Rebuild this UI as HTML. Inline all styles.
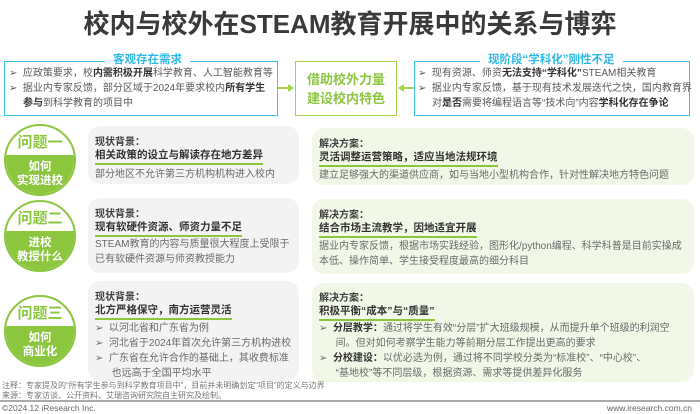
<!DOCTYPE html>
<html><head><meta charset="utf-8"><style>
*{margin:0;padding:0;box-sizing:border-box}
body{width:700px;height:414px;background:#fff;position:relative;overflow:hidden;font-family:"Liberation Sans","Noto Sans CJK SC",sans-serif;color:#595959}
.a{position:absolute;white-space:nowrap}
.title{left:0;width:700px;top:4px;text-align:center;font-size:26px;font-weight:bold;color:#3a3a3a}
.box{position:absolute;border:1.5px solid #3cc3ea}
.lbl{position:absolute;background:#fff;color:#2fb9e6;font-weight:bold;font-size:11.5px;padding:0 8px}
.li{font-size:10px;line-height:15px;color:#595959}
.li b{color:#333}
.circ{position:absolute;width:72px;height:72px;border-radius:50%;border:2px solid #8cc63f;overflow:hidden;background:#fff}
.circ .t{position:absolute;top:5px;width:100%;text-align:center;color:#8cc63f;font-weight:bold;font-size:15px}
.circ .b{position:absolute;top:29px;width:100%;height:44px;background:#8cc63f;color:#fff;font-weight:bold;font-size:11.5px;line-height:14px;text-align:center;padding-top:5px}
.card{position:absolute;border-radius:12px}
.g{background:#f3f3f3}
.gr{background:#f2f8e8}
.h{font-size:10px;font-weight:bold;color:#404040}
.s{font-size:10.5px;font-weight:bold;color:#333;display:inline-block;padding-bottom:1px;border-bottom:2px solid #8cc63f}
.p{font-size:10px;color:#6a6a6a;line-height:15px}
.p b{color:#333}
</style></head><body>
<div class="a title">校内与校外在STEAM教育开展中的关系与博弈</div>

<div class="box" style="left:4px;top:61px;width:274px;height:55px"></div>
<div class="lbl" style="left:105px;top:51px">客观存在需求</div>
<div class="a li" style="left:9px;top:66px">➢&nbsp; 应政策要求，校<b>内需积极开展</b>科学教育、人工智能教育等</div>
<div class="a li" style="left:9px;top:81px">➢&nbsp; 据业内专家反馈，部分区域于2024年要求校内<b>所有学生</b></div>
<div class="a li" style="left:23px;top:96px"><b>参与</b>到科学教育的项目中</div>

<div style="position:absolute;left:278px;top:87px;width:14px;height:1.5px;background:#a8d14a"></div>
<div style="position:absolute;left:288px;top:84px;border-left:6px solid #a8d14a;border-top:4px solid transparent;border-bottom:4px solid transparent"></div>
<div class="box" style="left:295px;top:61px;width:102px;height:55px;border-color:#a8d14a"></div>
<div class="a" style="left:295px;top:70px;width:102px;text-align:center;color:#8cc63f;font-weight:bold;font-size:13px;line-height:19px">借助校外力量<br>建设校内特色</div>
<div style="position:absolute;left:402px;top:87px;width:12px;height:1.5px;background:#a8d14a"></div>
<div style="position:absolute;left:398px;top:84px;border-right:6px solid #a8d14a;border-top:4px solid transparent;border-bottom:4px solid transparent"></div>

<div class="box" style="left:414px;top:61px;width:276px;height:55px"></div>
<div class="lbl" style="left:480px;top:51px">现阶段“学科化”刚性不足</div>
<div class="a li" style="left:418px;top:66px">➢&nbsp; 现有资源、师资<b>无法支持“学科化”</b>STEAM相关教育</div>
<div class="a li" style="left:418px;top:81px">➢&nbsp; 据业内专家反馈，基于现有技术发展迭代之快，国内教育界</div>
<div class="a li" style="left:432px;top:96px">对<b>是否</b>需要将编程语言等“技术向”内容<b>学科化存在争论</b></div>

<div class="circ" style="left:4px;top:124px"><div class="t">问题一</div><div class="b">如何<br>实现进校</div></div>
<div class="circ" style="left:4px;top:200px"><div class="t">问题二</div><div class="b">进校<br>教授什么</div></div>
<div class="circ" style="left:4px;top:295px"><div class="t">问题三</div><div class="b">如何<br>商业化</div></div>

<div class="card g" style="left:88px;top:126px;width:211px;height:58px"></div>
<div class="a h" style="left:95px;top:133px">现状背景：</div>
<div class="a s" style="left:95px;top:147px">相关政策的设立与解读存在地方差异</div>
<div class="a p" style="left:95px;top:167px">部分地区不允许第三方机构机构进入校内</div>

<div class="card gr" style="left:312px;top:128px;width:382px;height:57px"></div>
<div class="a h" style="left:319px;top:135px">解决方案：</div>
<div class="a s" style="left:319px;top:149px">灵活调整运营策略，适应当地法规环境</div>
<div class="a p" style="left:319px;top:168px">建立足够强大的渠道供应商，如与当地小型机构合作，针对性解决地方特色问题</div>

<div class="card g" style="left:88px;top:198px;width:211px;height:75px"></div>
<div class="a h" style="left:95px;top:205px">现状背景：</div>
<div class="a s" style="left:95px;top:219px">现有软硬件资源、师资力量不足</div>
<div class="a p" style="left:95px;top:237px">STEAM教育的内容与质量很大程度上受限于<br>已有软硬件资源与师资教授能力</div>

<div class="card gr" style="left:312px;top:199px;width:382px;height:75px"></div>
<div class="a h" style="left:319px;top:206px">解决方案：</div>
<div class="a s" style="left:319px;top:220px">结合市场主流教学，因地适宜开展</div>
<div class="a p" style="left:319px;top:239px">据业内专家反馈，根据市场实践经验，图形化/python编程、科学科普是目前实操成<br>本低、操作简单、学生接受程度最高的细分科目</div>

<div class="card g" style="left:88px;top:281px;width:211px;height:100px"></div>
<div class="a h" style="left:95px;top:288px">现状背景：</div>
<div class="a s" style="left:95px;top:302px">北方严格保守，南方运营灵活</div>
<div class="a p" style="left:95px;top:321px">➢&nbsp; 以河北省和广东省为例<br>➢&nbsp; 河北省于2024年首次允许第三方机构进校<br>➢&nbsp; 广东省在允许合作的基础上，其收费标准<br>&nbsp;&nbsp;&nbsp;&nbsp;&nbsp; 也远高于全国平均水平</div>

<div class="card gr" style="left:312px;top:283px;width:382px;height:99px"></div>
<div class="a h" style="left:319px;top:289px">解决方案：</div>
<div class="a s" style="left:319px;top:303px">积极平衡“成本”与“质量”</div>
<div class="a p" style="left:319px;top:321px">➢&nbsp; <b>分层教学：</b>通过将学生有效“分层”扩大班级规模，从而提升单个班级的利润空<br>&nbsp;&nbsp;&nbsp;&nbsp;&nbsp; 间。但对如何考察学生能力等前期分层工作提出更高的要求<br>➢&nbsp; <b>分校建设：</b>以优必选为例，通过将不同学校分类为“标准校”、“中心校”、<br>&nbsp;&nbsp;&nbsp;&nbsp;&nbsp; “基地校”等不同层级，根据资源、需求等提供差异化服务</div>

<div class="a" style="left:2px;top:381px;font-size:8px;color:#777;line-height:10px">注释：专家提及的“所有学生参与到科学教育项目中”，目前并未明确划定“项目”的定义与边界<br>来源：专家访谈、公开资料、艾瑞咨询研究院自主研究及绘制。</div>
<div style="position:absolute;left:0;top:400px;width:700px;height:1.5px;background:#aaa"></div>
<div class="a" style="left:2px;top:403px;font-size:8.5px;color:#666">©2024.12 iResearch Inc.</div>
<div class="a" style="right:8px;top:403px;font-size:8.5px;color:#666">www.iresearch.com.cn</div>
</body></html>
